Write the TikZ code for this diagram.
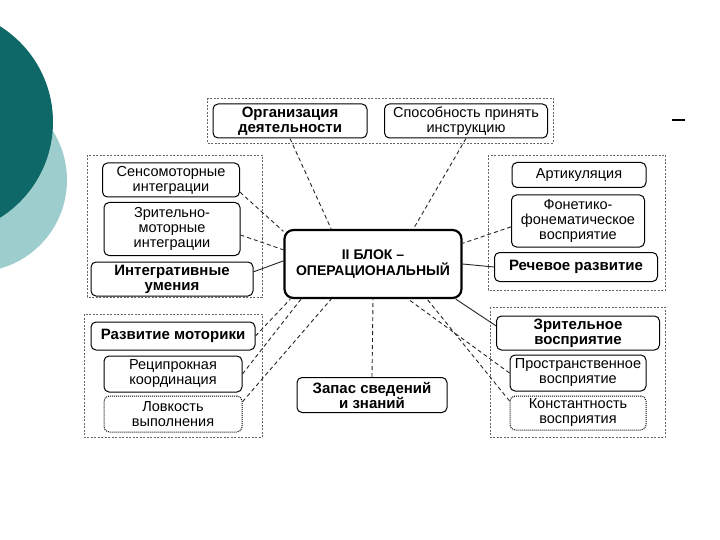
\documentclass[tikz,border=0pt]{standalone}
\usepackage{fontspec}
\setmainfont{Liberation Sans}
\definecolor{tealdark}{RGB}{14,104,104}
\definecolor{teallight}{RGB}{158,205,205}

\begin{document}
\begin{tikzpicture}[x=1pt,y=-1pt]
  \tikzstyle{box}=[draw,rounded corners=5pt,line width=1pt,fill=white,align=center,inner sep=1pt,font=\fontsize{14.5}{15}\selectfont]
  \tikzstyle{boldbox}=[box,font=\fontsize{15}{15}\selectfont\bfseries]
  \tikzstyle{dotbox}=[box,densely dotted]
  \tikzstyle{blockbox}=[box,rounded corners=9pt,line width=2.2pt,font=\fontsize{14}{16}\selectfont\bfseries]
  \tikzstyle{group}=[draw=black!60,dash pattern=on 2pt off 1.5pt,line width=0.7pt]
  \tikzstyle{link}=[black!85,line width=0.9pt,dash pattern=on 4pt off 3pt]
  \tikzstyle{solidlink}=[black!85,line width=0.9pt]

  \useasboundingbox[fill=white] (0,0) rectangle (720,540);
  \fill[teallight] (-25,180) circle[radius=92pt];
  \fill[tealdark] (-60,122) circle[radius=113pt];
  \draw[line width=1.2pt] (672,120) -- (685,120);

  % groups
  \draw[group] (207,98) rectangle (553,143);
  \draw[group] (87,155) rectangle (262,297);
  \draw[group] (84,314) rectangle (262,437);
  \draw[group] (488,155) rectangle (665,290);
  \draw[group] (490,307) rectangle (665,437);

  \node[boldbox,minimum width=154pt,minimum height=34pt] (org) at (290,121) {Организация\\деятельности};
  \node[box,minimum width=163pt,minimum height=34pt] (spos) at (466,121) {Способность принять\\инструкцию};

  \node[box,minimum width=137pt,minimum height=34pt] (sens) at (171,180) {Сенсомоторные\\интеграции};
  \node[box,minimum width=136pt,minimum height=53pt] (zrmot) at (172,229) {Зрительно-\\моторные\\интеграции};
  \node[boldbox,minimum width=162pt,minimum height=34pt] (integ) at (172,279) {Интегративные\\умения};

  \node[boldbox,minimum width=164pt,minimum height=28pt] (razv) at (173,336) {Развитие моторики};
  \node[box,minimum width=138pt,minimum height=36pt] (recip) at (173,374) {Реципрокная\\координация};
  \node[dotbox,minimum width=138pt,minimum height=36pt] (lovk) at (173,414) {Ловкость\\выполнения};

  \node[box,minimum width=134pt,minimum height=25pt] (artik) at (579,175) {Артикуляция};
  \node[box,minimum width=133pt,minimum height=52pt] (fonet) at (578,221) {Фонетико-\\фонематическое\\восприятие};
  \node[boldbox,minimum width=163pt,minimum height=29pt] (rech) at (576,267) {Речевое развитие};

  \node[boldbox,minimum width=163pt,minimum height=34pt] (zrit) at (578,333) {Зрительное\\восприятие};
  \node[box,minimum width=136pt,minimum height=36pt] (prostr) at (578,373) {Пространственное\\восприятие};
  \node[dotbox,minimum width=136pt,minimum height=34pt] (konst) at (578,413) {Константность\\восприятия};

  \node[blockbox,minimum width=177pt,minimum height=68pt] (blok) at (373,264) {II БЛОК –\\ОПЕРАЦИОНАЛЬНЫЙ};
  \node[boldbox,minimum width=150pt,minimum height=35pt] (zapas) at (372,395) {Запас сведений\\и знаний};

  % connectors
  \draw[link] (org.south) -- (blok.140);
  \draw[link] (spos.south) -- (blok.41);
  \draw[link] (sens.-10) -- (blok.160);
  \draw[link] (zrmot.-5) -- (blok.171);
  \draw[solidlink] (integ.5) -- (blok.178);
  \draw[link] (fonet.185) -- (blok.13);
  \draw[solidlink] (rech.west) -- (blok.east);
  \draw[solidlink] (zrit.175) -- (blok.-23);
  \draw[link] (prostr.west) -- (blok.-45);
  \draw[link] (konst.170) -- (blok.-33);
  \draw[link] (razv.east) -- (blok.203);
  \draw[link] (recip.east) -- (blok.206);
  \draw[link] (lovk.10) -- (blok.220);
  \draw[link] (zapas.north) -- (blok.south);
\end{tikzpicture}
\end{document}
